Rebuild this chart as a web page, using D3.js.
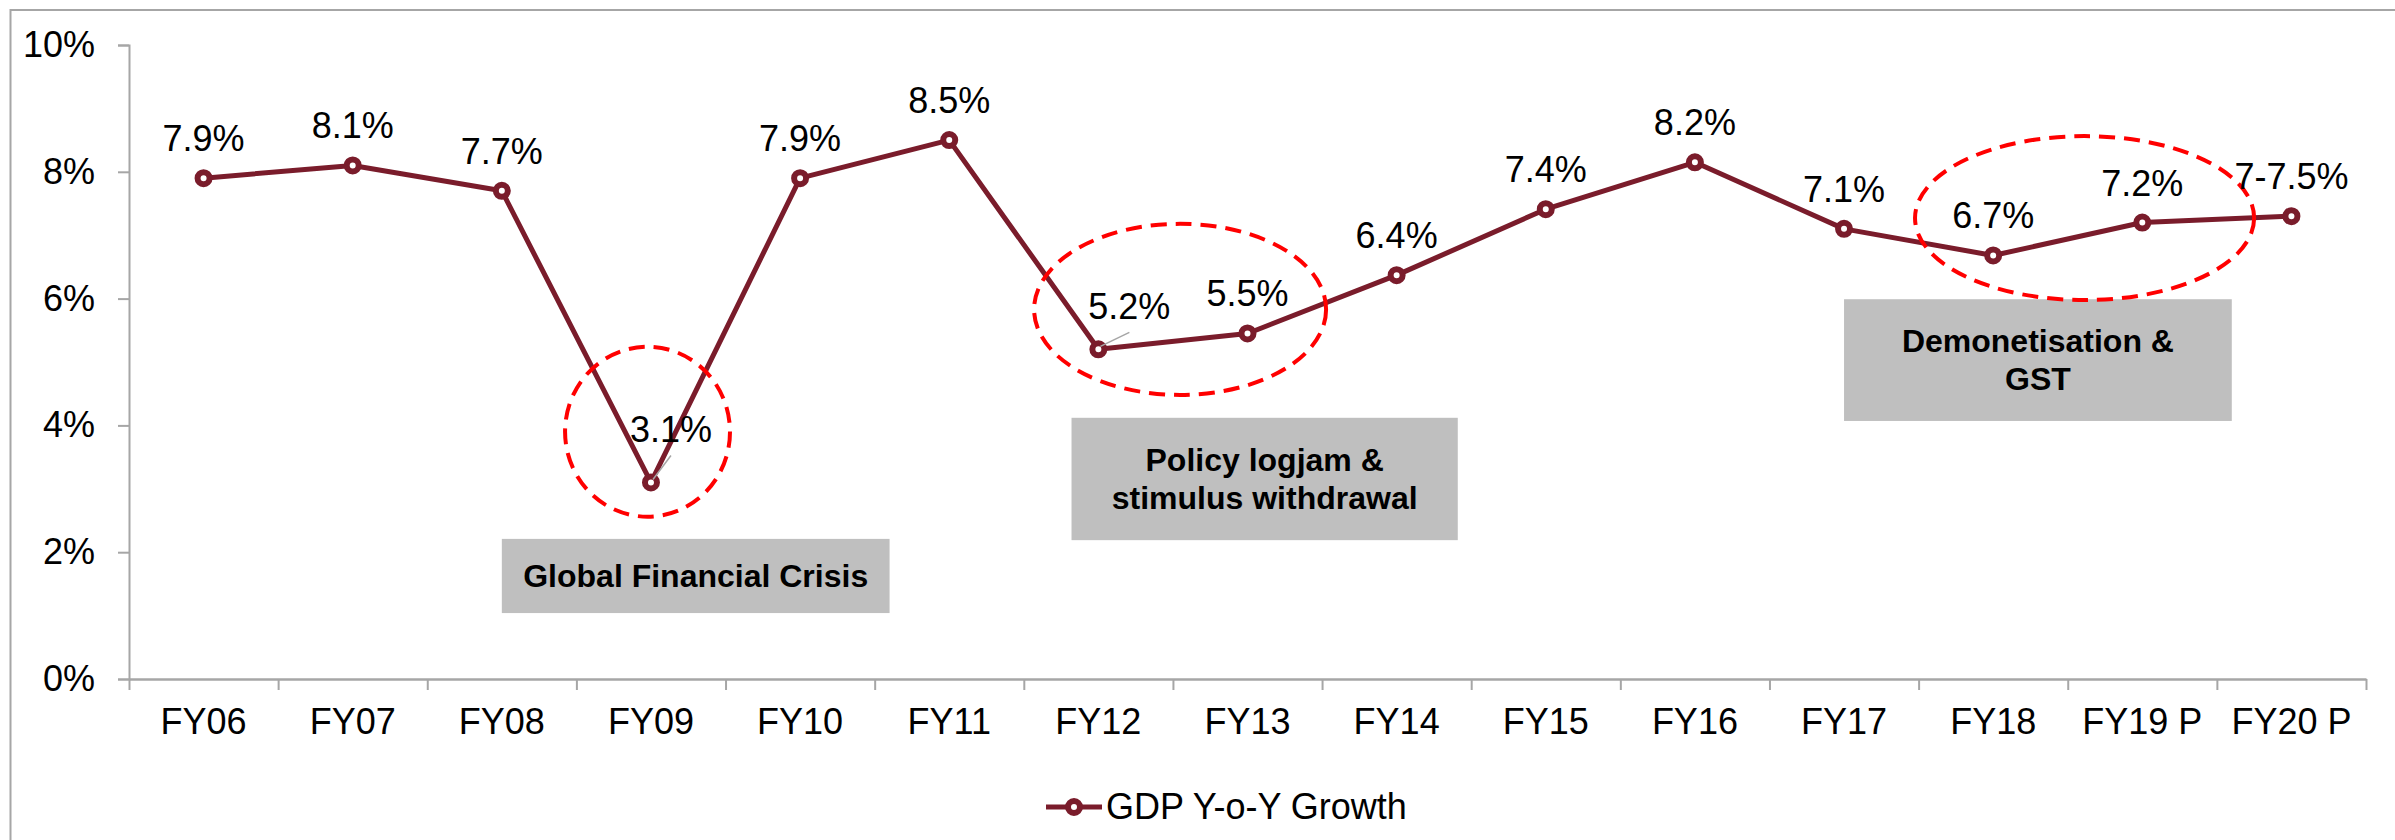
<!DOCTYPE html>
<html>
<head>
<meta charset="utf-8">
<script src="https://cdn.jsdelivr.net/npm/d3@7"></script>
<style>
  body { margin: 0; background: #fff; }
  text { font-family: Arial, "Liberation Sans", sans-serif; }
</style>
</head>
<body>
<div id="chart"></div>
<script>
// data
const categories = ["FY06", "FY07", "FY08", "FY09", "FY10", "FY11", "FY12", "FY13",
  "FY14", "FY15", "FY16", "FY17", "FY18", "FY19 P", "FY20 P"];
const growth = [7.9, 8.1, 7.7, 3.1, 7.9, 8.5, 5.2, 5.45, 6.37, 7.41, 8.15, 7.1, 6.68, 7.2, 7.3];
const valueLabels = ["7.9%", "8.1%", "7.7%", "3.1%", "7.9%", "8.5%", "5.2%", "5.5%",
  "6.4%", "7.4%", "8.2%", "7.1%", "6.7%", "7.2%", "7-7.5%"];
const yTicks = [0, 2, 4, 6, 8, 10];
const seriesName = "GDP Y-o-Y Growth";

// annotation boxes and rings (x in category units, y in %)
const boxes = [
  {x0: 2.5, x1: 5.1, hi: 2.21, lo: 1.04, lines: ["Global Financial Crisis"]},
  {x0: 6.32, x1: 8.91, hi: 4.12, lo: 2.19, lines: ["Policy logjam &", "stimulus withdrawal"]},
  {x0: 11.5, x1: 14.1, hi: 5.99, lo: 4.07, lines: ["Demonetisation &", "GST"]}
];
const rings = [
  {cx: 3.477, cy: 3.9, rx: 0.553, ry: 1.34},
  {cx: 7.048, cy: 5.83, rx: 0.979, ry: 1.349},
  {cx: 13.113, cy: 7.27, rx: 1.137, ry: 1.293}
];

const W = 2395, H = 840;
const margin = {left: 129, right: 2366, top: 45, bottom: 679};
const lineColor = "#7a1c2b";
const axisColor = "#a6a6a6";

const svg = d3.select("#chart")
  .append("svg")
    .attr("width", W)
    .attr("height", H);

// outer frame
svg.append("rect")
  .attr("x", 10.5).attr("y", 10)
  .attr("width", W).attr("height", H)
  .attr("fill", "none")
  .attr("stroke", axisColor)
  .attr("stroke-width", 2);

const x = d3.scaleBand().domain(categories).range([margin.left, margin.right]);
const xi = d3.scaleLinear().domain([0, categories.length]).range([margin.left, margin.right]);
const y = d3.scaleLinear().domain([0, 10]).range([margin.bottom, margin.top]);

// Y axis
const yAxis = svg.append("g")
  .attr("transform", `translate(${margin.left},0)`)
  .call(d3.axisLeft(y).tickValues(yTicks).tickFormat(d => d + "%").tickSize(11).tickPadding(23));
yAxis.select(".domain").attr("stroke", axisColor).attr("stroke-width", 2);
yAxis.selectAll(".tick line").attr("stroke", axisColor).attr("stroke-width", 2);
yAxis.selectAll("text")
  .style("font-size", "36px")
  .attr("fill", "#000")
  .style("font-family", "Arial, 'Liberation Sans', sans-serif");

// X axis: tick marks on category edges
const xEdges = svg.append("g")
  .attr("transform", `translate(0,${margin.bottom})`)
  .call(d3.axisBottom(xi).tickValues(d3.range(categories.length + 1)).tickFormat("").tickSize(11).tickSizeOuter(0));
xEdges.select(".domain").attr("stroke", axisColor).attr("stroke-width", 2.5);
xEdges.selectAll(".tick line").attr("stroke", axisColor).attr("stroke-width", 2);

// X axis labels
const xAxis = svg.append("g")
  .attr("transform", `translate(0,${margin.bottom})`)
  .call(d3.axisBottom(x).tickSize(0).tickPadding(29));
xAxis.select(".domain").remove();
xAxis.selectAll("text")
  .style("font-size", "36px")
  .attr("fill", "#000")
  .style("font-family", "Arial, 'Liberation Sans', sans-serif");

// grey annotation boxes
boxes.forEach(b => {
  const bx = xi(b.x0), bw = xi(b.x1) - xi(b.x0);
  const by = y(b.hi), bh = y(b.lo) - y(b.hi);
  svg.append("rect")
    .attr("x", bx).attr("y", by)
    .attr("width", bw).attr("height", bh)
    .attr("fill", "#bfbfbf");
  const cy = by + bh / 2 + 11;
  b.lines.forEach((t, i) => {
    svg.append("text")
      .attr("x", bx + bw / 2)
      .attr("y", cy + (i - (b.lines.length - 1) / 2) * 38)
      .attr("text-anchor", "middle")
      .style("font-size", "32px")
      .style("font-weight", "bold")
      .text(t);
  });
});

// the line
const pts = categories.map((c, i) => ({c: c, v: growth[i], label: valueLabels[i]}));
const cx = d => x(d.c) + x.bandwidth() / 2;

svg.append("path")
  .datum(pts)
  .attr("fill", "none")
  .attr("stroke", lineColor)
  .attr("stroke-width", 5)
  .attr("stroke-linejoin", "round")
  .attr("d", d3.line().x(cx).y(d => y(d.v)));

// dashed red rings
svg.selectAll("ellipse.ring")
  .data(rings)
  .join("ellipse")
    .attr("class", "ring")
    .attr("cx", d => xi(d.cx))
    .attr("cy", d => y(d.cy))
    .attr("rx", d => xi(d.rx) - xi(0))
    .attr("ry", d => y(0) - y(d.ry))
    .attr("fill", "none")
    .attr("stroke", "#ff0000")
    .attr("stroke-width", 4)
    .attr("stroke-dasharray", "16,9");

// markers
svg.selectAll("circle.pt")
  .data(pts)
  .join("circle")
    .attr("class", "pt")
    .attr("cx", cx)
    .attr("cy", d => y(d.v))
    .attr("r", 6)
    .attr("fill", "#fff")
    .attr("stroke", lineColor)
    .attr("stroke-width", 6);

// label offsets (px) for the two labels moved off their points
const shifted = {"FY09": [20, -40], "FY12": [31, -30]};

// leader lines
Object.keys(shifted).forEach(k => {
  const d = pts.find(p => p.c === k);
  const [dx, dy] = shifted[k];
  svg.append("line")
    .attr("x1", cx(d) + 2).attr("y1", y(d.v) - 3)
    .attr("x2", cx(d) + dx).attr("y2", y(d.v) + dy + 13)
    .attr("stroke", "#a6a6a6")
    .attr("stroke-width", 1.5);
});

// value labels
svg.selectAll("text.val")
  .data(pts)
  .join("text")
    .attr("class", "val")
    .attr("x", d => cx(d) + (shifted[d.c] ? shifted[d.c][0] : 0))
    .attr("y", d => y(d.v) + (shifted[d.c] ? shifted[d.c][1] : -27))
    .attr("text-anchor", "middle")
    .style("font-size", "36px")
    .text(d => d.label);

// legend
const lg = svg.append("g");
lg.append("line")
  .attr("x1", 1046).attr("x2", 1102)
  .attr("y1", 807).attr("y2", 807)
  .attr("stroke", lineColor)
  .attr("stroke-width", 5);
lg.append("circle")
  .attr("cx", 1074).attr("cy", 807).attr("r", 6)
  .attr("fill", "#fff")
  .attr("stroke", lineColor)
  .attr("stroke-width", 6);
lg.append("text")
  .attr("x", 1106).attr("y", 819)
  .style("font-size", "36px")
  .text(seriesName);
</script>
</body>
</html>
